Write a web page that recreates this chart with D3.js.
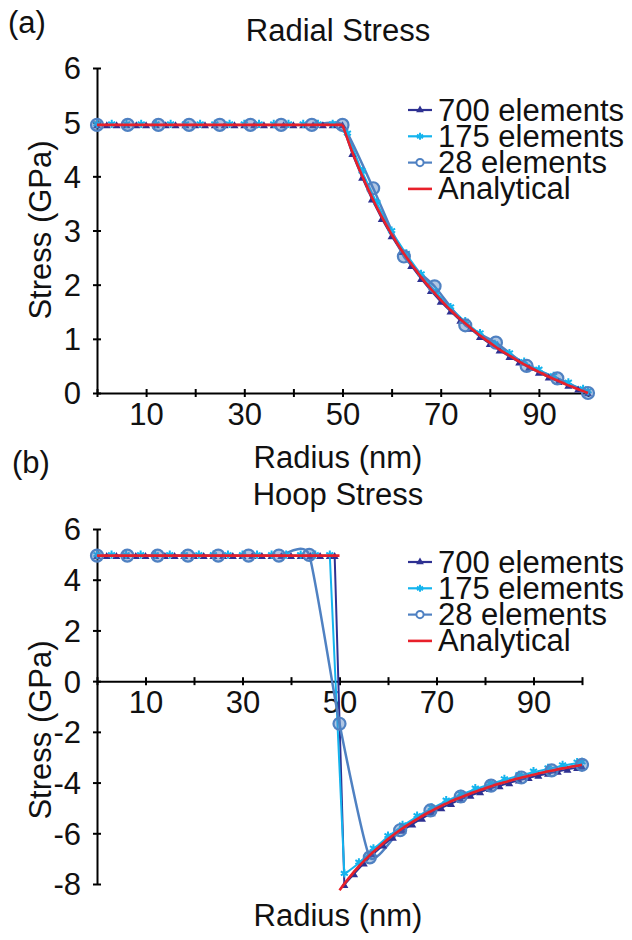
<!DOCTYPE html>
<html>
<head>
<meta charset="utf-8">
<script src="https://cdn.jsdelivr.net/npm/d3@7"></script>
<style>
  body { margin: 0; background: #fff; }
  text { font-family: "Liberation Sans", Arial, sans-serif; fill: #111; }
</style>
</head>
<body>
<script>
//-----------------
// DATA
//-----------------
var xTicks = [0, 10, 20, 30, 40, 50, 60, 70, 80, 90, 100];
var xLabels = [10, 30, 50, 70, 90];
var yTicksRadial = [0, 1, 2, 3, 4, 5, 6];
var yTicksHoop = [-8, -6, -4, -2, 0, 2, 4, 6];
var seriesNames = ["700 elements", "175 elements", "28 elements", "Analytical"];

// radius grids (nm)
var r700 = [0, 2, 4, 6, 8, 10, 12, 14, 16, 18, 20, 22, 24, 26, 28, 30, 32, 34, 36, 38, 40, 42, 44, 46, 48, 50,
    52, 54, 56, 58, 60, 62, 64, 66, 68, 70, 72, 74, 76, 78, 80, 82, 84, 86, 88, 90, 92, 94, 96, 98, 100];
var rHoop700 = [0, 2, 4, 6, 8, 10, 12, 14, 16, 18, 20, 22, 24, 26, 28, 30, 32, 34, 36, 38, 40, 42, 44, 46, 48, 49,
    51, 53, 55, 57, 59, 61, 63, 65, 67, 69, 71, 73, 75, 77, 79, 81, 83, 85, 87, 89, 91, 93, 95, 97, 99, 100];
var r175 = [0, 3, 6, 9, 12, 15, 18, 21, 24, 27, 30, 33, 36, 39, 42, 45, 48,
    51, 54, 57, 60, 63, 66, 69, 72, 75, 78, 81, 84, 87, 90, 93, 96, 99, 100];
var r28 = [0, 6.25, 12.5, 18.75, 25, 31.25, 37.5, 43.75, 50, 56.25, 62.5, 68.75, 75, 81.25, 87.5, 93.75, 100];
var rAnaFlat = [0, 50];
var rAnaCurve = [50, 52, 54, 56, 58, 60, 62, 64, 66, 68, 70, 72, 74, 76, 78, 80, 82, 84, 86, 88, 90, 92, 94, 96, 98, 100];

// radial stress (GPa)
var radial700 = [4.95, 4.95, 4.95, 4.95, 4.95, 4.95, 4.95, 4.95, 4.95, 4.95, 4.95, 4.95, 4.95, 4.95, 4.95, 4.95,
    4.95, 4.95, 4.95, 4.95, 4.95, 4.95, 4.95, 4.95, 4.95, 4.95,
    4.42, 3.98, 3.58, 3.22, 2.90, 2.61, 2.35, 2.11, 1.89, 1.69, 1.51, 1.34, 1.19, 1.04, 0.91, 0.79, 0.67,
    0.57, 0.47, 0.38, 0.29, 0.21, 0.14, 0.07, 0.00];
var radial175 = [4.95, 4.95, 4.95, 4.95, 4.95, 4.95, 4.95, 4.95, 4.95, 4.95, 4.95, 4.95, 4.95, 4.95, 4.95, 4.95, 4.95,
    4.78, 4.08, 3.50, 2.98, 2.56, 2.18, 1.86, 1.57, 1.31, 1.09, 0.89, 0.72, 0.56, 0.42, 0.30, 0.18, 0.06, 0.02];
var radial28 = [4.95, 4.95, 4.95, 4.95, 4.95, 4.95, 4.95, 4.95, 4.95,
    3.78, 2.52, 1.97, 1.25, 0.93, 0.50, 0.27, 0.00];
var radialAnaFlat = [4.95, 4.95];
var radialAnaCurve = [4.95, 4.45, 4.01, 3.61, 3.25, 2.93, 2.64, 2.38, 2.14, 1.92, 1.72, 1.53, 1.36, 1.21, 1.06,
    0.93, 0.80, 0.69, 0.58, 0.48, 0.39, 0.30, 0.22, 0.14, 0.07, 0.00];

// hoop stress (GPa)
var hoop700 = [4.95, 4.95, 4.95, 4.95, 4.95, 4.95, 4.95, 4.95, 4.95, 4.95, 4.95, 4.95, 4.95, 4.95, 4.95, 4.95,
    4.95, 4.95, 4.95, 4.95, 4.95, 4.95, 4.95, 4.95, 4.95, 4.95,
    -8.03, -7.60, -7.18, -6.81, -6.47, -6.16, -5.89, -5.64, -5.41, -5.20, -5.00, -4.83, -4.66, -4.51, -4.37,
    -4.24, -4.13, -4.01, -3.91, -3.81, -3.72, -3.64, -3.56, -3.48, -3.41, -3.36];
var hoop175 = [4.95, 4.95, 4.95, 4.95, 4.95, 4.95, 4.95, 4.95, 4.95, 4.95, 4.95, 4.95, 4.95, 4.95, 4.95, 4.95, 4.95,
    -7.62, -7.18, -6.63, -6.13, -5.71, -5.34, -5.02, -4.73, -4.48, -4.26, -4.06, -3.89, -3.73, -3.59, -3.46,
    -3.34, -3.23, -3.22];
var hoop28 = [4.95, 4.95, 4.95, 4.95, 4.95, 4.95, 4.95, 4.98,
    -1.68, -6.95, -5.88, -5.10, -4.55, -4.12, -3.80, -3.52, -3.30];
var hoopAnaFlat = [4.95, 4.95];
var hoopAnaCurve = [-8.25, -7.75, -7.30, -6.91, -6.56, -6.23, -5.94, -5.68, -5.44, -5.22, -5.02, -4.83, -4.66,
    -4.51, -4.36, -4.23, -4.10, -3.99, -3.88, -3.78, -3.69, -3.60, -3.52, -3.44, -3.37, -3.30];

//-----------------
// STYLE
//-----------------
var colors = { e700: "#2e3192", e175: "#14b4ee", e28: "#4f81c2", ana: "#e8202a" };
var fontSize = 31;

var svg = d3.select("body").append("svg")
    .attr("width", 632)
    .attr("height", 940);

function zip(xs, ys) {
    return xs.map(function (x, i) { return [x, ys[i]]; });
}

//-----------------
// PANEL
//-----------------
function drawPanel(p) {
    var x = d3.scaleLinear().domain([0, 100]).range(p.xRange);
    var y = d3.scaleLinear().domain(p.yDomain).range(p.yRange);
    var g = svg.append("g");

    // axes
    var yAxis = d3.axisLeft(y).tickValues(p.yTicks).tickSizeOuter(0).tickSizeInner(4)
        .tickFormat(function (d) { return d < 0 ? "-" + Math.abs(d) : d; });
    var ya = g.append("g").attr("transform", "translate(" + p.xRange[0] + ",0)").call(yAxis);
    ya.selectAll(".tick line").attr("x1", -4).attr("x2", 4);
    ya.selectAll(".tick text").attr("x", -16).attr("dy", "0.35em");

    var xAxis = d3.axisBottom(x).tickValues(xTicks).tickSizeOuter(0).tickSizeInner(4)
        .tickFormat(function (d) { return xLabels.indexOf(d) >= 0 ? d : ""; });
    var xa = g.append("g").attr("transform", "translate(0," + y(0) + ")").call(xAxis);
    xa.selectAll(".tick line").attr("y1", -4).attr("y2", 4);
    xa.selectAll(".tick text").attr("y", 32).attr("dy", null);

    g.selectAll(".domain, .tick line").attr("stroke", "#000").attr("stroke-width", 2);
    g.selectAll(".tick text").style("font-size", fontSize + "px")
        .style("font-family", "'Liberation Sans', Arial, sans-serif").attr("fill", "#111");

    var line = d3.line().x(function (d) { return x(d[0]); }).y(function (d) { return y(d[1]); });

    // 700 elements
    var d700 = zip(p.r700, p.s700);
    g.append("path").datum(d700).attr("d", line).attr("fill", "none")
        .attr("stroke", colors.e700).attr("stroke-width", 2);

    // 175 elements
    var d175 = zip(r175, p.s175);
    g.append("path").datum(d175).attr("d", line).attr("fill", "none")
        .attr("stroke", colors.e175).attr("stroke-width", 2);

    // 28 elements (smoothed)
    var d28 = zip(r28, p.s28);
    var smooth = d3.line().x(function (d) { return x(d[0]); }).y(function (d) { return y(d[1]); })
        .curve(d3.curveCardinal.tension(0.5));
    g.append("path").datum(d28).attr("d", smooth).attr("fill", "none")
        .attr("stroke", colors.e28).attr("stroke-width", 2.5);

    // markers
    g.selectAll("path.m700").data(d700).enter().append("path")
        .attr("class", "m700")
        .attr("d", d3.symbol().type(d3.symbolTriangle).size(28))
        .attr("transform", function (d) { return "translate(" + x(d[0]) + "," + (y(d[1]) + 1) + ")"; })
        .attr("fill", colors.e700);
    g.selectAll("path.m175").data(d175).enter().append("path")
        .attr("class", "m175")
        .attr("d", d3.symbol().type(d3.symbolAsterisk).size(46))
        .attr("transform", function (d) { return "translate(" + x(d[0]) + "," + (y(d[1]) - 1) + ")"; })
        .attr("fill", "none").attr("stroke", colors.e175).attr("stroke-width", 2);
    g.selectAll("circle.m28").data(d28).enter().append("circle")
        .attr("class", "m28")
        .attr("cx", function (d) { return x(d[0]); })
        .attr("cy", function (d) { return y(d[1]); })
        .attr("r", 6)
        .attr("fill", colors.e28).attr("fill-opacity", 0.45)
        .attr("stroke", colors.e28).attr("stroke-width", 2.2);

    // analytical
    var anaLine = d3.line().x(function (d) { return x(d[0]); }).y(function (d) { return y(d[1]); })
        .curve(d3.curveMonotoneX);
    p.ana.forEach(function (seg) {
        g.append("path").datum(seg).attr("d", anaLine).attr("fill", "none")
            .attr("stroke", colors.ana).attr("stroke-width", 2.6);
    });

    // titles
    g.append("text").attr("x", 338).attr("y", p.titleY).attr("text-anchor", "middle")
        .style("font-size", fontSize + "px").text(p.title);
    g.append("text").attr("x", p.tagX).attr("y", p.tagY)
        .style("font-size", fontSize + "px").text(p.tag);
    g.append("text").attr("x", 338).attr("y", p.xTitleY).attr("text-anchor", "middle")
        .style("font-size", fontSize + "px").text("Radius (nm)");
    g.append("text").attr("transform", "translate(40," + p.yTitleY + ") rotate(-90)")
        .attr("text-anchor", "middle").attr("dy", "0.35em")
        .style("font-size", fontSize + "px").text("Stress (GPa)");

    // legend
    var lg = g.append("g").attr("transform", "translate(408," + p.legendY + ")");
    seriesNames.forEach(function (name, i) {
        var row = lg.append("g").attr("transform", "translate(0," + i * 26.3 + ")");
        var c = [colors.e700, colors.e175, colors.e28, colors.ana][i];
        row.append("line").attr("x1", 0).attr("x2", 24).attr("stroke", c)
            .attr("stroke-width", i === 3 ? 2.6 : 2.2);
        if (i === 0) {
            row.append("path").attr("d", d3.symbol().type(d3.symbolTriangle).size(26))
                .attr("transform", "translate(12,0)").attr("fill", c);
        } else if (i === 1) {
            row.append("path").attr("d", d3.symbol().type(d3.symbolAsterisk).size(34))
                .attr("transform", "translate(12,0)").attr("fill", "none")
                .attr("stroke", c).attr("stroke-width", 2);
        } else if (i === 2) {
            row.append("circle").attr("cx", 12).attr("r", 3.6).attr("fill", "#fff")
                .attr("stroke", c).attr("stroke-width", 2);
        }
        row.append("text").attr("x", 30).attr("y", 10.5)
            .style("font-size", fontSize + "px").text(name);
    });
}

drawPanel({
    xRange: [97, 588], yDomain: [0, 6], yRange: [393, 68], yTicks: yTicksRadial,
    r700: r700, s700: radial700, s175: radial175, s28: radial28,
    ana: [zip(rAnaFlat, radialAnaFlat), zip(rAnaCurve, radialAnaCurve)],
    title: "Radial Stress", titleY: 41, tag: "(a)", tagX: 8, tagY: 33,
    xTitleY: 468, yTitleY: 230, legendY: 110
});

drawPanel({
    xRange: [97, 582], yDomain: [-8, 6], yRange: [884, 529], yTicks: yTicksHoop,
    r700: rHoop700, s700: hoop700, s175: hoop175, s28: hoop28,
    ana: [zip(rAnaFlat, hoopAnaFlat), zip(rAnaCurve, hoopAnaCurve)],
    title: "Hoop Stress", titleY: 505, tag: "(b)", tagX: 12, tagY: 473,
    xTitleY: 926, yTitleY: 730, legendY: 562
});
</script>
</body>
</html>
